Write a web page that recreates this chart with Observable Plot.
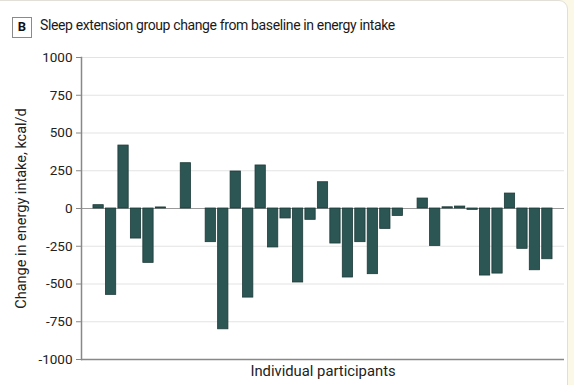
<!DOCTYPE html>
<html>
<head>
<meta charset="utf-8">
<script src="https://cdn.jsdelivr.net/npm/d3@7"></script>
<script src="https://cdn.jsdelivr.net/npm/@observablehq/plot@0.6"></script>
<style>
  html, body { margin: 0; padding: 0; }
  body { width: 574px; height: 385px; background: #fcf8e8; position: relative; overflow: hidden; font-family: Roboto, "Noto Sans", sans-serif; }
  #card { position: absolute; left: -2px; top: 0; width: 570px; height: 400px; background: #fff; border: 1px solid #e2dfd8; border-radius: 0 9px 0 0; box-sizing: border-box; }
  #badge { position: absolute; left: 12px; top: 17px; width: 20px; height: 21px; border: 1.5px solid #8a8a8a; box-sizing: border-box; font: bold 13px Roboto, sans-serif; color: #111; text-align: center; line-height: 18px; }
  #title { position: absolute; left: 40px; top: 17px; font: 14px Roboto, sans-serif; color: #1a1a1a; white-space: nowrap; letter-spacing: -0.37px; }
  #chart { position: absolute; left: 0; top: 45px; }
</style>
</head>
<body>
<div id="card"></div>
<div id="badge">B</div>
<div id="title">Sleep extension group change from baseline in energy intake</div>
<div id="chart"></div>
<script>
const participants = d3.range(1, 38).map(String);
const energyChange = [22, -572, 417, -199, -360, 7, null, 300, null, -223, -800, 245, -590, 285, -258, -66, -490, -75, 174, -232, -457, -223, -435, -135, -49, null, 66, -248, 8, 13, -9, -444, -431, 99, -267, -409, -336];
const yTicks = [-1000, -750, -500, -250, 0, 250, 500, 750, 1000];

const data = participants.map((p, i) => ({participant: p, value: energyChange[i]})).filter(d => d.value != null);

const chart = Plot.plot({
  width: 574,
  height: 340,
  marginLeft: 81,
  marginRight: 10,
  marginTop: 12,
  marginBottom: 26,
  style: {fontFamily: "Roboto, 'Noto Sans', sans-serif", fontSize: "13px", color: "#222", background: "transparent", overflow: "visible"},
  x: {domain: participants, paddingInner: 0.175, paddingOuter: 0.96, round: false, axis: null},
  y: {domain: [-1000, 1000]},
  marks: [
    Plot.gridY(yTicks, {stroke: "#e3e3e3", strokeOpacity: 1, strokeWidth: 1}),
    Plot.ruleY([0], {stroke: "#9a9a9a", strokeWidth: 1}),
    Plot.barY(data, {x: "participant", y: "value", fill: "#2b5654", stroke: "#1d3a38", strokeWidth: 0.8}),
    Plot.ruleY([-1000], {stroke: "#888", strokeWidth: 1.5}),
    Plot.frame({anchor: "left", stroke: "#888", strokeWidth: 1.5}),
    Plot.axisY(yTicks, {tickSize: 5, tickPadding: 4, stroke: "#888", label: null, tickFormat: d => d < 0 ? "-" + Math.abs(d) : String(d), fontSize: 13.5}),
    Plot.text(["Change in energy intake, kcal/d"], {frameAnchor: "left", textAnchor: "middle", dx: -60, rotate: -90, fontSize: 14.5, fill: "#222"}),
    Plot.text(["Individual participants"], {frameAnchor: "bottom", dy: 16, fontSize: 14.8, fill: "#222"})
  ]
});
document.getElementById("chart").appendChild(chart);
</script>
</body>
</html>
